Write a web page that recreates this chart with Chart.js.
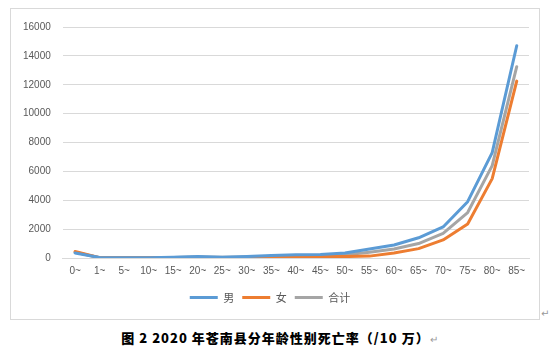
<!DOCTYPE html>
<html>
<head>
<meta charset="utf-8">
<script src="https://cdn.jsdelivr.net/npm/chart.js@4.4.0/dist/chart.umd.min.js"></script>
<style>
  body { margin: 0; background: #fff; width: 552px; height: 353px; position: relative; overflow: hidden; }
  #box { position: absolute; left: 10px; top: 8px; width: 528px; height: 310px; border: 1px solid #d9d9d9; }
  #caption { position: absolute; left: 4px; width: 552px; top: 328px; text-align: center;
    font-family: "Noto Sans CJK SC", sans-serif; font-weight: 900; font-size: 13px; letter-spacing: 1px; color: #000; }
  .mark { color: #999; font-weight: normal; font-size: 10px; }
  #mark2 { position: absolute; left: 541px; top: 308px; color: #999; font-size: 10px; font-family: "DejaVu Sans", sans-serif; }
</style>
</head>
<body>
<div id="box"><canvas id="myChart" width="528" height="310"></canvas></div>
<div id="mark2">↵</div>
<div id="caption">图 2 2020 年苍南县分年龄性别死亡率（/10 万）<span class="mark">↵</span></div>
<script>
// age groups and death rates (per 100,000)
const ageGroups = ['0~', '1~', '5~', '10~', '15~', '20~', '25~', '30~', '35~', '40~', '45~', '50~', '55~', '60~', '65~', '70~', '75~', '80~', '85~'];
const male   = [350, 30, 20, 20, 50, 100, 60, 100, 170, 220, 250, 350, 620, 900, 1400, 2150, 3900, 7300, 14700];
const female = [450, 20, 10, 10, 20, 40, 30, 40, 50, 60, 80, 100, 130, 350, 650, 1250, 2350, 5500, 12250];
const total  = [400, 25, 15, 15, 35, 70, 45, 70, 110, 140, 170, 230, 400, 620, 1000, 1700, 3150, 6400, 13250];
</script>
<script>
document.addEventListener("DOMContentLoaded", function() {
  const ctx = document.getElementById('myChart').getContext('2d');
  const font = { family: '"Liberation Sans", "Noto Sans CJK SC", sans-serif', size: 10 };

  new Chart(ctx, {
    type: 'line',
    data: {
      labels: ageGroups,
      datasets: [
        { label: '男', data: male, borderColor: '#5b9bd5', backgroundColor: '#5b9bd5', borderWidth: 3 },
        { label: '女', data: female, borderColor: '#ed7d31', backgroundColor: '#ed7d31', borderWidth: 3 },
        { label: '合计', data: total, borderColor: '#a5a5a5', backgroundColor: '#a5a5a5', borderWidth: 3 }
      ]
    },
    options: {
      responsive: false,
      animation: false,
      elements: {
        line: { tension: 0, borderJoinStyle: 'round', borderCapStyle: 'round' },
        point: { radius: 0, hoverRadius: 0 }
      },
      layout: { autoPadding: false, padding: { left: 0, right: 10, top: 6, bottom: 6 } },
      plugins: {
        legend: {
          position: 'bottom',
          labels: {
            usePointStyle: true,
            pointStyle: 'line',
            pointStyleWidth: 28,
            boxHeight: 3,
            padding: 8,
            color: '#595959',
            font: { family: '"Noto Sans CJK SC", sans-serif', size: 11 }
          }
        },
        tooltip: { enabled: false }
      },
      scales: {
        x: {
          offset: true,
          grid: { display: false, drawTicks: false },
          border: { color: '#d9d9d9' },
          ticks: { color: '#595959', font: font, padding: 7, maxRotation: 0, autoSkip: false }
        },
        y: {
          min: 0,
          max: 16000,
          grid: { color: '#d9d9d9', drawTicks: false },
          border: { display: false },
          ticks: {
            stepSize: 2000, color: '#595959', font: font, padding: 12,
            callback: function(value) { return String(value); }
          }
        }
      }
    }
  });
});
</script>
</body>
</html>
